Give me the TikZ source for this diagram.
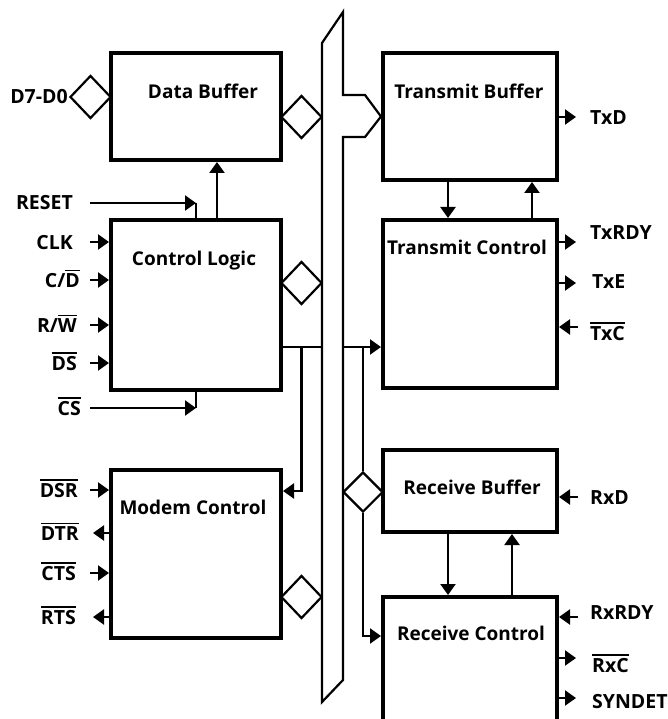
\documentclass[tikz,border=0pt]{standalone}
\usepackage{fontspec}
\setmainfont{Open Sans}
\usepackage{tikz}
\usetikzlibrary{arrows.meta,positioning,shapes.geometric}

\newcommand{\negsig}[1]{\leavevmode\vbox{\hrule height 1.5pt\kern 2pt\hbox{#1}}}

\begin{document}
\begin{tikzpicture}[
  x=1pt, y=-1pt,
  block/.style={draw, line width=4pt, minimum width=170pt, inner sep=0pt},
  title/.style={font=\fontsize{19}{21}\selectfont\bfseries, inner sep=0pt, text height=13.5pt, text depth=0pt},
  pin/.style={font=\fontsize{19.5}{21}\selectfont\bfseries, inner sep=0pt, text height=14pt, text depth=0pt},
  port/.style={draw, diamond, line width=2.2pt, inner sep=0pt, minimum width=41pt, minimum height=43pt, fill=white},
  wire/.style={line width=2.2pt},
  sig/.style={-{Triangle[length=11pt,width=15pt]}, line width=2.2pt}
]
\path[use as bounding box, clip] (0,0) rectangle (668,719);

\node[block, minimum height=107pt] (databuf) at (196,106.5) {};
\node[block, minimum height=170pt] (ctrl) at (196,305) {};
\node[block, minimum height=168pt] (modem) at (196,554) {};
\node[block, minimum width=174pt, minimum height=127pt] (txbuf) at (470,116.5) {};
\node[block, minimum width=174pt, minimum height=168pt] (txctrl) at (470,304) {};
\node[block, minimum width=174pt, minimum height=82pt] (rxbuf) at (470,491) {};
\node[block, minimum width=174pt, minimum height=150pt] (rxctrl) at (470,672) {};

\node[title] (databuf-t) at (203,92) {Data Buffer};
\node[title] (ctrl-t) at (194,259) {Control Logic};
\node[title] (modem-t) at (193,508) {Modem Control};
\node[title] (txbuf-t) at (469,92) {Transmit Buffer};
\node[title] (txctrl-t) at (467,248) {Transmit Control};
\node[title] (rxbuf-t) at (472,488) {Receive Buffer};
\node[title] (rxctrl-t) at (471,634) {Receive Control};

% system bus
\draw[wire, fill=white] (322,43) -- (343,12) -- (343,95) -- (365,95) -- (txbuf.west)
  -- (365,137) -- (343,137) -- (343,680) -- (322,702) -- cycle;
\coordinate (busL) at (322,347);
\coordinate (busR) at (343,347);

\node[port] (d7) at (90.5,97) {};
\node[pin, left=1pt of d7] (d7-l) {D7-D0};
\node[port] (dbd) at (301.5,117) {};
\node[port] (ctld) at (301.5,283) {};
\node[port] (modd) at (301.5,597) {};
\node[port, minimum width=40pt, minimum height=40pt] (rxd) at (363,492) {};

\draw[sig] ([xshift=21pt]ctrl.north) -- ([xshift=21pt]databuf.south);
\draw[wire] (ctrl.east |- busL) -- (busL);
\draw[sig] (modd |- busL) |- ([yshift=-23pt]modem.north east);
\draw[sig] (busR) -- (txctrl.west |- busR);
\draw[wire] (rxd |- busR) -- (rxd.north);
\draw[sig] (rxd.south) |- ([yshift=-41pt]rxctrl.north west);

\draw[sig] ([xshift=-22pt]txbuf.south) -- ([xshift=-22pt]txctrl.north);
\draw[sig] ([xshift=62pt]txctrl.north) -- ([xshift=62pt]txbuf.south);
\draw[sig] ([xshift=-22pt]rxbuf.south) -- ([xshift=-22pt]rxctrl.north);
\draw[sig] ([xshift=42pt]rxctrl.north) -- ([xshift=42pt]rxbuf.south);

% control logic pins
\node[pin, anchor=east] (reset) at (73,203) {RESET};
\draw[sig] ([xshift=17pt]reset.east) -- (ctrl.north |- reset.east);
\draw[wire] (ctrl.north |- reset.east) -- (ctrl.north);
\node[pin, anchor=east] (clk) at (73,242) {CLK};
\draw[sig] ([xshift=17pt]clk.east) -- (clk.east -| ctrl.west);
\node[pin, anchor=east] (cd) at (80,280) {C/\negsig{D}};
\draw[sig] ([xshift=10pt]cd.east) -- (cd.east -| ctrl.west);
\node[pin, anchor=east] (rw) at (77,325) {R/\negsig{W}};
\draw[sig] ([xshift=13pt]rw.east) -- (rw.east -| ctrl.west);
\node[pin, anchor=east] (ds) at (77,363) {\negsig{DS}};
\draw[sig] ([xshift=13pt]ds.east) -- (ds.east -| ctrl.west);
\node[pin, anchor=east] (cs) at (81,408) {\negsig{CS}};
\draw[sig] ([xshift=9pt]cs.east) -- (ctrl.south |- cs.east);
\draw[wire] (ctrl.south |- cs.east) -- (ctrl.south);

% modem pins
\node[pin, anchor=east] (dsr) at (78,490) {\negsig{DSR}};
\draw[sig] ([xshift=12pt]dsr.east) -- (dsr.east -| modem.west);
\node[pin, anchor=east] (dtr) at (79,533) {\negsig{DTR}};
\draw[sig] (dtr.east -| modem.west) -- ([xshift=14pt]dtr.east);
\node[pin, anchor=east] (cts) at (76,573) {\negsig{CTS}};
\draw[sig] ([xshift=14pt]cts.east) -- (cts.east -| modem.west);
\node[pin, anchor=east] (rts) at (76,617) {\negsig{RTS}};
\draw[sig] (rts.east -| modem.west) -- ([xshift=17pt]rts.east);

% transmitter and receiver pins
\coordinate (txd-p) at (576,117);
\node[pin, anchor=west] (txd) at (590,118) {TxD};
\draw[sig] (txd-p -| txbuf.east) -- (txd-p);
\coordinate (txrdy-p) at (576,242);
\node[pin, anchor=west] (txrdy) at (590,233) {TxRDY};
\draw[sig] (txrdy-p -| txctrl.east) -- (txrdy-p);
\coordinate (txe-p) at (576,283);
\node[pin, anchor=west] (txe) at (592,281) {TxE};
\draw[sig] (txe-p -| txctrl.east) -- (txe-p);
\coordinate (txc-p) at (578,327);
\node[pin, anchor=west] (txc) at (590,333) {\negsig{TxC}};
\draw[sig] (txc-p) -- (txc-p -| txctrl.east);
\coordinate (rxd-p) at (578,497);
\node[pin, anchor=west] (rxdl) at (590,497) {RxD};
\draw[sig] (rxd-p) -- (rxd-p -| rxbuf.east);
\coordinate (rxrdy-p) at (578,617);
\node[pin, anchor=west] (rxrdy) at (590,612) {RxRDY};
\draw[sig] (rxrdy-p) -- (rxrdy-p -| rxctrl.east);
\coordinate (rxc-p) at (576,658);
\node[pin, anchor=west] (rxc) at (592,665) {\negsig{RxC}};
\draw[sig] (rxc-p -| rxctrl.east) -- (rxc-p);
\coordinate (syndet-p) at (576,698);
\node[pin, anchor=west] (syndet) at (592,701) {SYNDET};
\draw[sig] (syndet-p -| rxctrl.east) -- (syndet-p);
\end{tikzpicture}
\end{document}
